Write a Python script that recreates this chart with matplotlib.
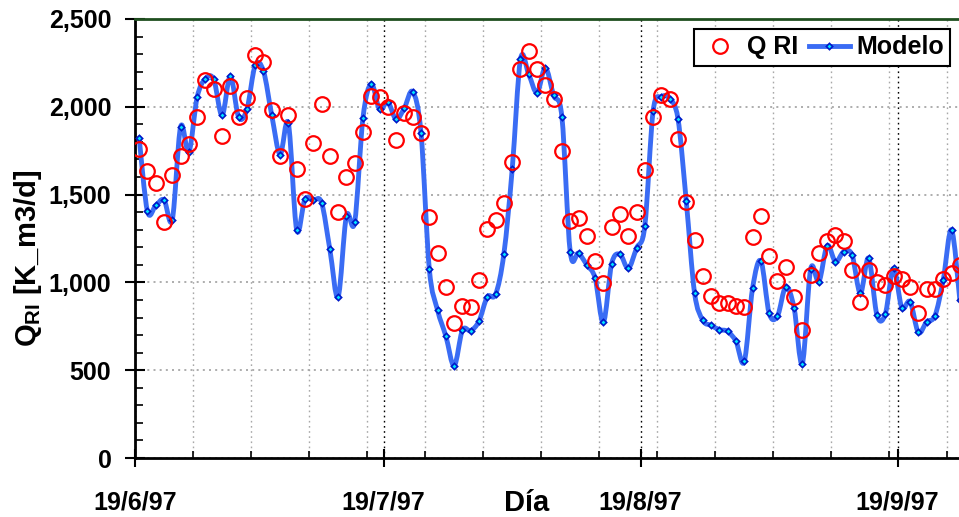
import matplotlib
matplotlib.use("Agg")
import matplotlib.pyplot as plt
import matplotlib.dates as mdates
import matplotlib.ticker as mticker
from matplotlib.path import Path
from matplotlib.patches import PathPatch
from matplotlib.lines import Line2D
import numpy as np
import pandas as pd

# ---------------- data ----------------
start_date = "1997-06-19"
n_days = 100

modelo = [1823, 1405, 1438, 1470, 1358, 1886, 1743, 2055, 2160, 2156,
          1951, 2175, 1941, 1985, 2236, 2203, 1951, 1728, 1905, 1300,
          1474, 1467, 1455, 1190, 917, 1377, 1343, 1937, 2131, 1985,
          2027, 1928, 1994, 2086, 1852, 1078, 842, 694, 525, 728,
          725, 780, 918, 932, 1163, 1643, 2270, 2184, 2080, 2222,
          2065, 1941, 1175, 1166, 1100, 1025, 772, 1106, 1160, 1080,
          1195, 1321, 1975, 2057, 2046, 1932, 1462, 940, 784, 755,
          731, 721, 664, 550, 967, 1122, 824, 808, 975, 856,
          538, 1075, 1004, 1209, 1118, 1175, 1156, 938, 1138, 814,
          818, 1080, 856, 890, 715, 776, 810, 1014, 1299, 900]

q_ri = [1761, 1633, 1567, 1343, 1610, 1719, 1789, 1943, 2150, 2104,
        1833, 2118, 1941, 2051, 2295, 2257, 1981, 1719, 1951, 1647,
        1476, 1795, 2017, 1719, 1402, 1601, 1681, 1858, 2061, 2057,
        1998, 1810, 1966, 1943, 1852, 1373, 1168, 973, 768, 868,
        858, 1015, 1302, 1355, 1452, 1686, 2217, 2317, 2217, 2122,
        2046, 1747, 1348, 1367, 1263, 1120, 997, 1316, 1390, 1267,
        1402, 1639, 1941, 2070, 2046, 1818, 1457, 1241, 1034, 925,
        880, 880, 864, 859, 1258, 1380, 1153, 1008, 1085, 916,
        731, 1041, 1167, 1233, 1270, 1235, 1070, 891, 1070, 1000,
        986, 1038, 1021, 973, 823, 962, 962, 1021, 1051, 1100]

major_dates = ["1997-06-19", "1997-07-19", "1997-08-19", "1997-09-19"]
major_labels = ["19/6/97", "19/7/97", "19/8/97", "19/9/97"]
y_ticks = [0, 500, 1000, 1500, 2000, 2500]

# ---------------- style ----------------
plt.rcParams['font.family'] = ['Liberation Sans', 'DejaVu Sans']
plt.rcParams['font.weight'] = 'bold'
plt.rcParams['mathtext.fontset'] = 'custom'
plt.rcParams['mathtext.rm'] = 'Liberation Sans:bold'
plt.rcParams['mathtext.bf'] = 'Liberation Sans:bold'

LINE_C = '#3a6cf4'
MK_FACE, MK_EDGE = '#00e5ff', '#0018c8'

W, H = 959, 517
fig = plt.figure(figsize=(W / 100, H / 100), dpi=100)
ax_left, ax_right, ax_top, ax_bottom = 135, 959, 19, 458
ax = fig.add_axes([ax_left / W, 1 - ax_bottom / H,
                   (ax_right - ax_left) / W, (ax_bottom - ax_top) / H])

t0 = mdates.date2num(pd.Timestamp(start_date))
days = pd.date_range(start_date, periods=n_days, freq="D")
xpos = mdates.date2num(days) + 0.5   # Excel places points mid-day
ym = np.asarray(modelo, dtype=float)

# Excel-style smoothed line (cubic Bezier through the data points)
verts = [(xpos[0], ym[0])]
codes = [Path.MOVETO]
n = len(xpos)
for i in range(n - 1):
    p0 = np.array([xpos[max(i - 1, 0)], ym[max(i - 1, 0)]])
    p1 = np.array([xpos[i], ym[i]])
    p2 = np.array([xpos[i + 1], ym[i + 1]])
    p3 = np.array([xpos[min(i + 2, n - 1)], ym[min(i + 2, n - 1)]])
    c1 = p1 + (p2 - p0) / 6.0
    c2 = p2 - (p3 - p1) / 6.0
    verts += [tuple(c1), tuple(c2), tuple(p2)]
    codes += [Path.CURVE4] * 3
ax.add_patch(PathPatch(Path(verts, codes), facecolor='none', edgecolor=LINE_C,
                       lw=3.5, joinstyle='round', capstyle='round', zorder=3))
ax.plot(xpos, modelo, ls='none', marker='D', markersize=3.2,
        markerfacecolor=MK_FACE, markeredgecolor=MK_EDGE, markeredgewidth=1.2,
        zorder=3.5)
ax.plot(xpos, q_ri, ls='none', marker='o', markersize=10.5,
        markerfacecolor='none', markeredgecolor='#ff0000', markeredgewidth=1.6,
        zorder=4)

ax.set_xlim(t0, t0 + 99.4)
ax.set_ylim(0, 2500)

# ticks
major_x = mdates.date2num(pd.to_datetime(major_dates))
ax.xaxis.set_major_locator(mticker.FixedLocator(major_x))
ax.xaxis.set_major_formatter(mticker.FixedFormatter(major_labels))
ax.xaxis.set_minor_locator(mticker.FixedLocator(t0 + np.arange(0, 120, 7)))
ax.yaxis.set_major_locator(mticker.FixedLocator(y_ticks))
ax.yaxis.set_minor_locator(mticker.MultipleLocator(100))
ax.yaxis.set_major_formatter(mticker.FuncFormatter(lambda v, p: f"{int(v):,}"))

ax.tick_params(axis='x', which='major', direction='inout', length=13, width=1.5,
               labelsize=18, pad=17)
ax.tick_params(axis='x', which='minor', direction='in', length=5, width=1.2)
ax.tick_params(axis='y', which='major', direction='inout', length=14, width=1.5,
               labelsize=18, pad=10)
ax.tick_params(axis='y', which='minor', direction='in', length=6, width=1.2)

# grid
ax.xaxis.grid(True, which='minor', color='#a8a8a8', ls=(0, (1.2, 2.5)), lw=1.0)
ax.xaxis.grid(True, which='major', color='black', ls=(0, (1.2, 2.5)), lw=1.0)
ax.yaxis.grid(True, which='major', color='#a0a0a0', ls=(0, (1.2, 2.5)), lw=1.2)
ax.set_axisbelow(True)

# spines
for s in ['left', 'bottom']:
    ax.spines[s].set_linewidth(2)
    ax.spines[s].set_color('black')
ax.spines['right'].set_visible(False)
ax.spines['top'].set_color('#1f4f1f')
ax.spines['top'].set_linewidth(2)

# labels
fig.text(527 / W, 1 - 503 / H, "Día", fontsize=21, fontweight='bold',
         ha='center', va='center')
fig.text(28 / W, 1 - 258 / H, r"Q$_{\mathrm{RI}}$ [K_m3/d]", fontsize=21,
         fontweight='bold', rotation=90, ha='center', va='center')

# legend
h_obs = Line2D([], [], ls='none', marker='o', markersize=10.5,
               markerfacecolor='none', markeredgecolor='#ff0000', markeredgewidth=1.6)
h_mod = Line2D([], [], color=LINE_C, lw=3.5, marker='D', markersize=3.2,
               markerfacecolor=MK_FACE, markeredgecolor=MK_EDGE, markeredgewidth=1.2)
leg = ax.legend([h_obs, h_mod], ['Q RI', 'Modelo'], ncol=2,
                loc='upper right', bbox_to_anchor=(950 / W, 1 - 29 / H),
                bbox_transform=fig.transFigure, borderaxespad=0,
                frameon=True, fancybox=False, framealpha=1, edgecolor='black',
                prop={'size': 18, 'weight': 'bold'}, handlelength=1.65,
                handletextpad=0.25, columnspacing=0.4, borderpad=0.25,
                numpoints=1)
leg.get_frame().set_linewidth(1.5)

fig.savefig("out.png", dpi=100)
